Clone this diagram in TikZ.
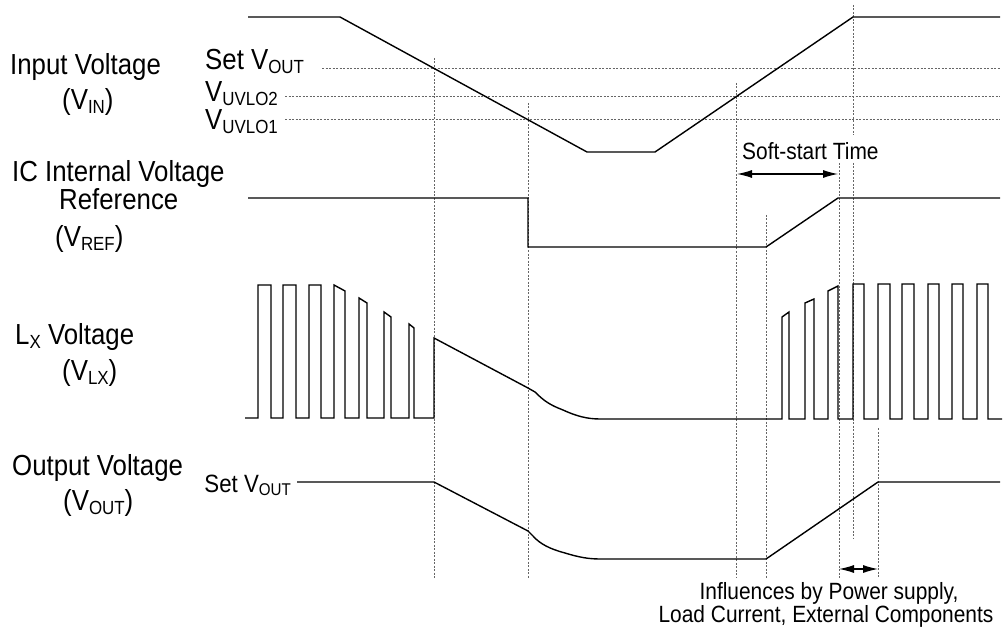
\documentclass[tikz,border=0pt]{standalone}
\usepackage{fontspec}
\setmainfont{Liberation Sans}[FakeStretch=0.89]
\usetikzlibrary{arrows.meta}
\newcommand{\sbs}[1]{\raisebox{-4pt}{\fontsize{19}{20}\selectfont #1}}
\newcommand{\sbss}[1]{\raisebox{-3pt}{\fontsize{17}{18}\selectfont #1}}
\begin{document}
\begin{tikzpicture}[x=1pt,y=-1pt,
  lbl/.style={inner sep=0pt,anchor=base west,font=\fontsize{29}{32}\selectfont},
  smalllbl/.style={inner sep=0pt,font=\fontsize{23.5}{26}\selectfont},
  wave/.style={line width=1.4pt,line join=miter},
  guide/.style={black!60,line width=0.7pt,dash pattern=on 2pt off 1.5pt},
  dimarrow/.style={line width=1.1pt,{Latex[length=15pt,width=8pt]}-{Latex[length=15pt,width=8pt]}}]
\useasboundingbox (0,0) rectangle (1003,628);

% ---------- left labels ----------
\node[lbl] (vin1) at (10,75) {Input Voltage};
\node[lbl] (vin2) at (62,110) {(V\sbs{IN})};
\node[lbl] (setv1) at (205,70) {Set V\sbs{OUT}};
\node[lbl] (uvlo2) at (205,102) {V\sbs{UVLO2}};
\node[lbl] (uvlo1) at (205,130) {V\sbs{UVLO1}};
\node[lbl] (ref1) at (12,182) {IC Internal Voltage};
\node[lbl] (ref2) at (59,210) {Reference};
\node[lbl] (ref3) at (55,247) {(V\sbs{REF})};
\node[lbl] (lx1) at (15,344) {L\sbs{X} Voltage};
\node[lbl] (lx2) at (62,380) {(V\sbs{LX})};
\node[lbl] (out1) at (12,475) {Output Voltage};
\node[lbl] (out2) at (63,510) {(V\sbs{OUT})};
\node[inner sep=0pt,anchor=base east,font=\fontsize{25}{28}\selectfont] (setv2) at (291,492) {Set V\sbss{OUT}};

% ---------- horizontal guides ----------
\draw[guide] (322,68) -- (1000,68);
\draw[guide] (285,96) -- (1000,96);
\draw[guide] (285,119) -- (1000,119);

% ---------- vertical guides ----------
\draw[guide] (434,58) -- (434,578);
\draw[guide] (528,103) -- (528,578);
\draw[guide] (736,83) -- (736,578);
\draw[guide] (766,215) -- (766,578);
\draw[guide] (853,5) -- (853,135);
\draw[guide] (853,163) -- (853,538);
\draw[guide] (839,163) -- (839,578);
\draw[guide] (878,428) -- (878,578);

% ---------- VIN ----------
\draw[wave] (248,17) -- (340,17) -- (587,152) -- (655,152) -- (853,17) -- (1000,17);

% ---------- VREF ----------
\draw[wave] (248,198) -- (528,198) -- (528,247) -- (766,247) -- (838,198) -- (1000,198);

% ---------- LX ----------
\draw[wave] (245,418) -- (258,418) -- (258,285) -- (271,285) -- (271,418)
  -- (283,418) -- (283,285) -- (296,285) -- (296,418)
  -- (309,418) -- (309,285) -- (321,285) -- (321,418)
  -- (334,418) -- (334,285) -- (345,291) -- (345,418)
  -- (359,418) -- (359,298) -- (367,303) -- (367,418)
  -- (384,418) -- (384,312) -- (391,317) -- (391,418)
  -- (409,418) -- (409,324) -- (414,328) -- (414,418)
  -- (434,418) -- (434,338) -- (528,388)
  -- (535,392) .. controls (544,401) and (550,405) .. (563,410)
  .. controls (576,416) and (587,419) .. (600,419)
  -- (782,419) -- (782,317) -- (789,312) -- (789,419)
  -- (805,419) -- (805,303) -- (814,299) -- (814,419)
  -- (828,419) -- (828,291) -- (838,286) -- (838,419)
  -- (853,419) -- (853,284) -- (864,284) -- (864,419)
  -- (878,419) -- (878,284) -- (890,284) -- (890,419)
  -- (902,419) -- (902,284) -- (914,284) -- (914,419)
  -- (928,419) -- (928,284) -- (939,284) -- (939,419)
  -- (952,419) -- (952,284) -- (963,284) -- (963,419)
  -- (977,419) -- (977,284) -- (988,284) -- (988,419) -- (1002,419);

% ---------- VOUT ----------
\draw[wave] (297,482) -- (434,482) -- (528,531)
  -- (533,536) .. controls (540,544) and (550,549) .. (565,553)
  .. controls (578,557) and (588,559) .. (600,559)
  -- (766,559) -- (878,482) -- (1000,482);

% ---------- soft-start ----------
\node[smalllbl,anchor=base west] (sst) at (742,160) {Soft-start Time};
\coordinate (ssa) at (737,174);
\coordinate (ssb) at (838,174);
\draw[dimarrow] (ssa) -- (ssb);

% ---------- influences ----------
\coordinate (ina) at (839,569);
\coordinate (inb) at (878,569);
\draw[dimarrow] (ina) -- (inb);
\node[smalllbl,anchor=base] (inf1) at (829,599) {Influences by Power supply,};
\node[smalllbl,anchor=base] (inf2) at (826,622) {Load Current, External Components};
\end{tikzpicture}
\end{document}
